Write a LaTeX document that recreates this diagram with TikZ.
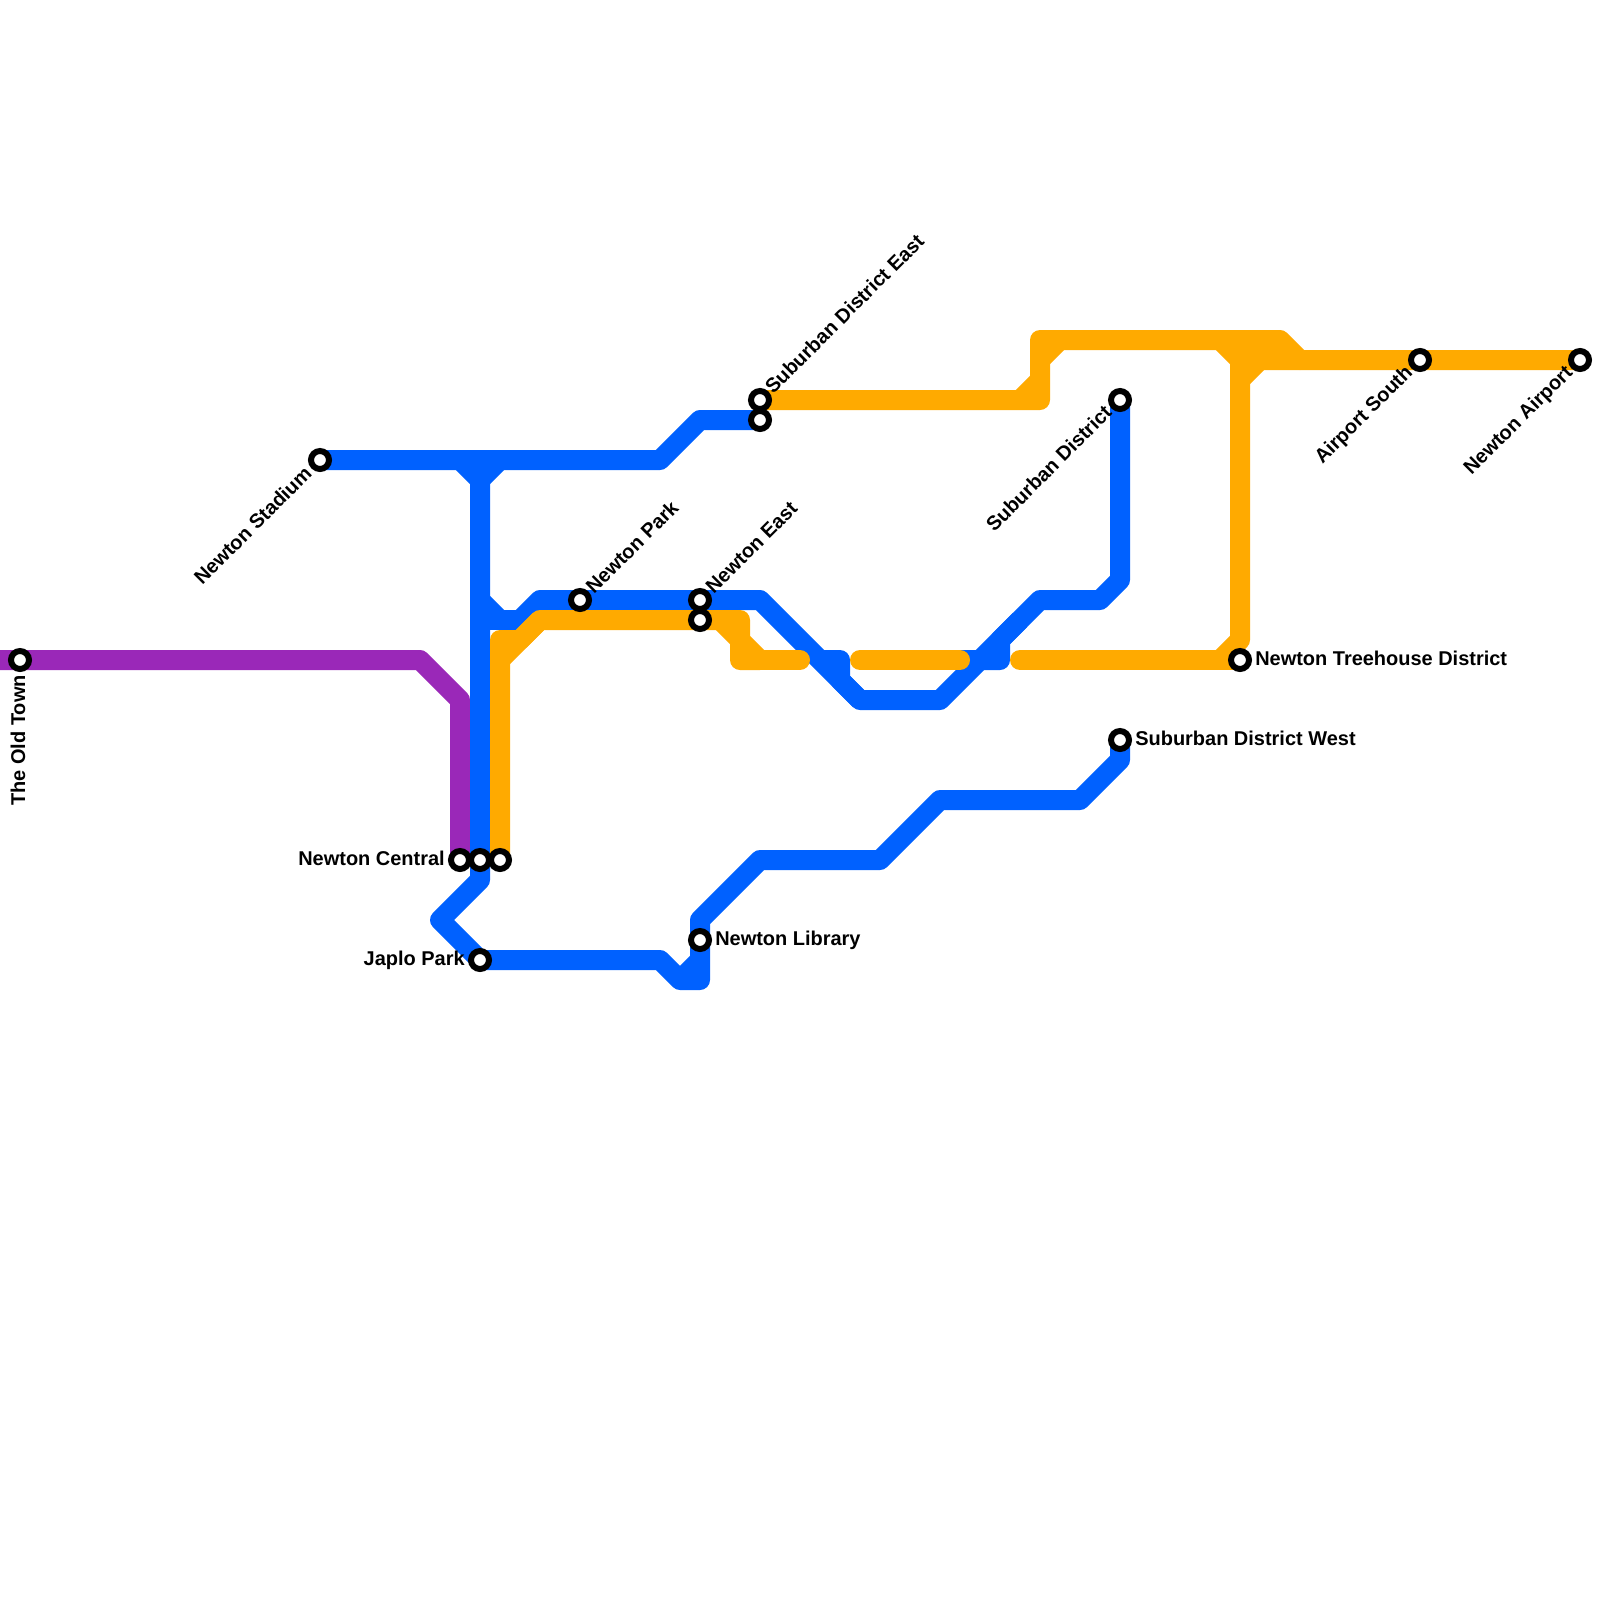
\documentclass[tikz,border=0pt]{standalone}
\usepackage{fontspec}
\setmainfont{Liberation Sans}
\usepackage{tikz}
\definecolor{metroblue}{HTML}{0061FF}
\definecolor{metroorange}{HTML}{FFAA00}
\definecolor{metropurple}{HTML}{9A28B8}
\tikzstyle{route}=[line width=.5cm, line join=round]
\tikzstyle{stn}=[circle, draw=black, fill=white, line width=.15cm, minimum size=.45cm, inner sep=0pt, outer sep=0pt]
\tikzstyle{lbl}=[inner sep=0pt, font=\fontsize{14.2pt}{16pt}\selectfont\bfseries]

\begin{document}
\begin{tikzpicture}
        [x=.5cm,y=-.5cm]
            \useasboundingbox [fill=white] (0,0) rectangle (80,80);
            % purple
            \draw [route,metropurple] (0,33) -- (21,33) -- (23,35) -- (23,43) ;
            % blue
            \draw [route,metroblue] (16,23) -- (33,23) -- (35,21) -- (38,21) ;
            \draw [route,metroblue] (23,23) -- (24,24) -- (25,23) ;
            \draw [route,metroblue] (24,24) -- (24,44) -- (22,46) -- (24,48) -- (33,48) -- (34,49) -- (35,49) -- (35,46) -- (38,43) -- (44,43) -- (47,40) -- (54,40) -- (56,38) -- (56,37) ;
            \draw [route,metroblue] (34,49) -- (35,48) ;
            \draw [route,metroblue] (24,30) -- (25,31) -- (26,31) -- (27,30) -- (38,30) -- (43,35) -- (47,35) -- (52,30) -- (55,30) -- (56,29) -- (56,20) ;
            \draw [route,metroblue] (24,31) -- (25,31) ;
            \draw [route,metroblue] (41,33) -- (42,33) -- (42,34) -- (43,35) ;
            \draw [route,metroblue] (48,33) -- (50,33) -- (50,32) -- (51,31) ;
            % orange
            \draw [route,metroorange] (25,43) -- (25,32) -- (26,32) -- (27,31) -- (37,31) -- (37,32) -- (38,33) ;
            \draw [route,metroorange] (25,33) -- (27,31) ;
            \draw [route,metroorange] (36,31) -- (37,32) -- (37,33) -- (38,33) ;
            \draw [route,metroorange,line cap=round] (38,33) -- (40,33) ;
            \draw [route,metroorange,line cap=round] (43,33) -- (48,33) ;
            \draw [route,metroorange,line cap=round] (51,33) -- (62,33) ;
            \draw [route,metroorange] (61,33) -- (62,32) -- (62,18) ;
            \draw [route,metroorange] (38,20) -- (52,20) -- (52,17) -- (64,17) -- (65,18) -- (79,18) ;
            \draw [route,metroorange] (51,20) -- (52,19) ;
            \draw [route,metroorange] (52,18) -- (53,17) ;
            \draw [route,metroorange] (61,17) -- (62,18) -- (65,18) ;
            \draw [route,metroorange] (62,19) -- (63,18) ;
            % stations
            \node [stn] (oldtown) at (1,33) {};
            \node [stn] (stadium) at (16,23) {};
            \node [stn] (centrala) at (23,43) {};
            \node [stn] (centralb) at (24,43) {};
            \node [stn] (centralc) at (25,43) {};
            \node [stn] (japlo) at (24,48) {};
            \node [stn] (park) at (29,30) {};
            \node [stn] (easta) at (35,30) {};
            \node [stn] (eastb) at (35,31) {};
            \node [stn] (library) at (35,47) {};
            \node [stn] (subeasta) at (38,20) {};
            \node [stn] (subeastb) at (38,21) {};
            \node [stn] (suburban) at (56,20) {};
            \node [stn] (subwest) at (56,37) {};
            \node [stn] (treehouse) at (62,33) {};
            \node [stn] (south) at (71,18) {};
            \node [stn] (airport) at (79,18) {};
            % labels
            \node [lbl,rotate=90,anchor=east] (oldtownlbl) at (.9,33.75) {The Old Town};
            \node [lbl,rotate=45,anchor=east] (stadiumlbl) at (15.4,23.5) {Newton Stadium};
            \node [lbl,anchor=east] (centrallbl) at (22.25,42.9) {Newton Central};
            \node [lbl,anchor=east] (japlolbl) at (23.25,48) {Japlo Park};
            \node [lbl,rotate=45,anchor=west] (parklbl) at (29.45,29.5) {Newton Park};
            \node [lbl,rotate=45,anchor=west] (eastlbl) at (35.45,29.5) {Newton East};
            \node [lbl,anchor=west] (librarylbl) at (35.75,47) {Newton Library};
            \node [lbl,rotate=45,anchor=west] (subeastlbl) at (38.4,19.5) {Suburban District East};
            \node [lbl,rotate=45,anchor=east] (suburbanlbl) at (55.4,20.45) {Suburban District};
            \node [lbl,anchor=west] (subwestlbl) at (56.75,36.9) {Suburban District West};
            \node [lbl,anchor=west] (treehouselbl) at (62.75,32.9) {Newton Treehouse District};
            \node [lbl,rotate=45,anchor=east] (southlbl) at (70.5,18.5) {Airport South};
            \node [lbl,rotate=45,anchor=east] (airportlbl) at (78.5,18.5) {Newton Airport};
        \end{tikzpicture}
\end{document}
